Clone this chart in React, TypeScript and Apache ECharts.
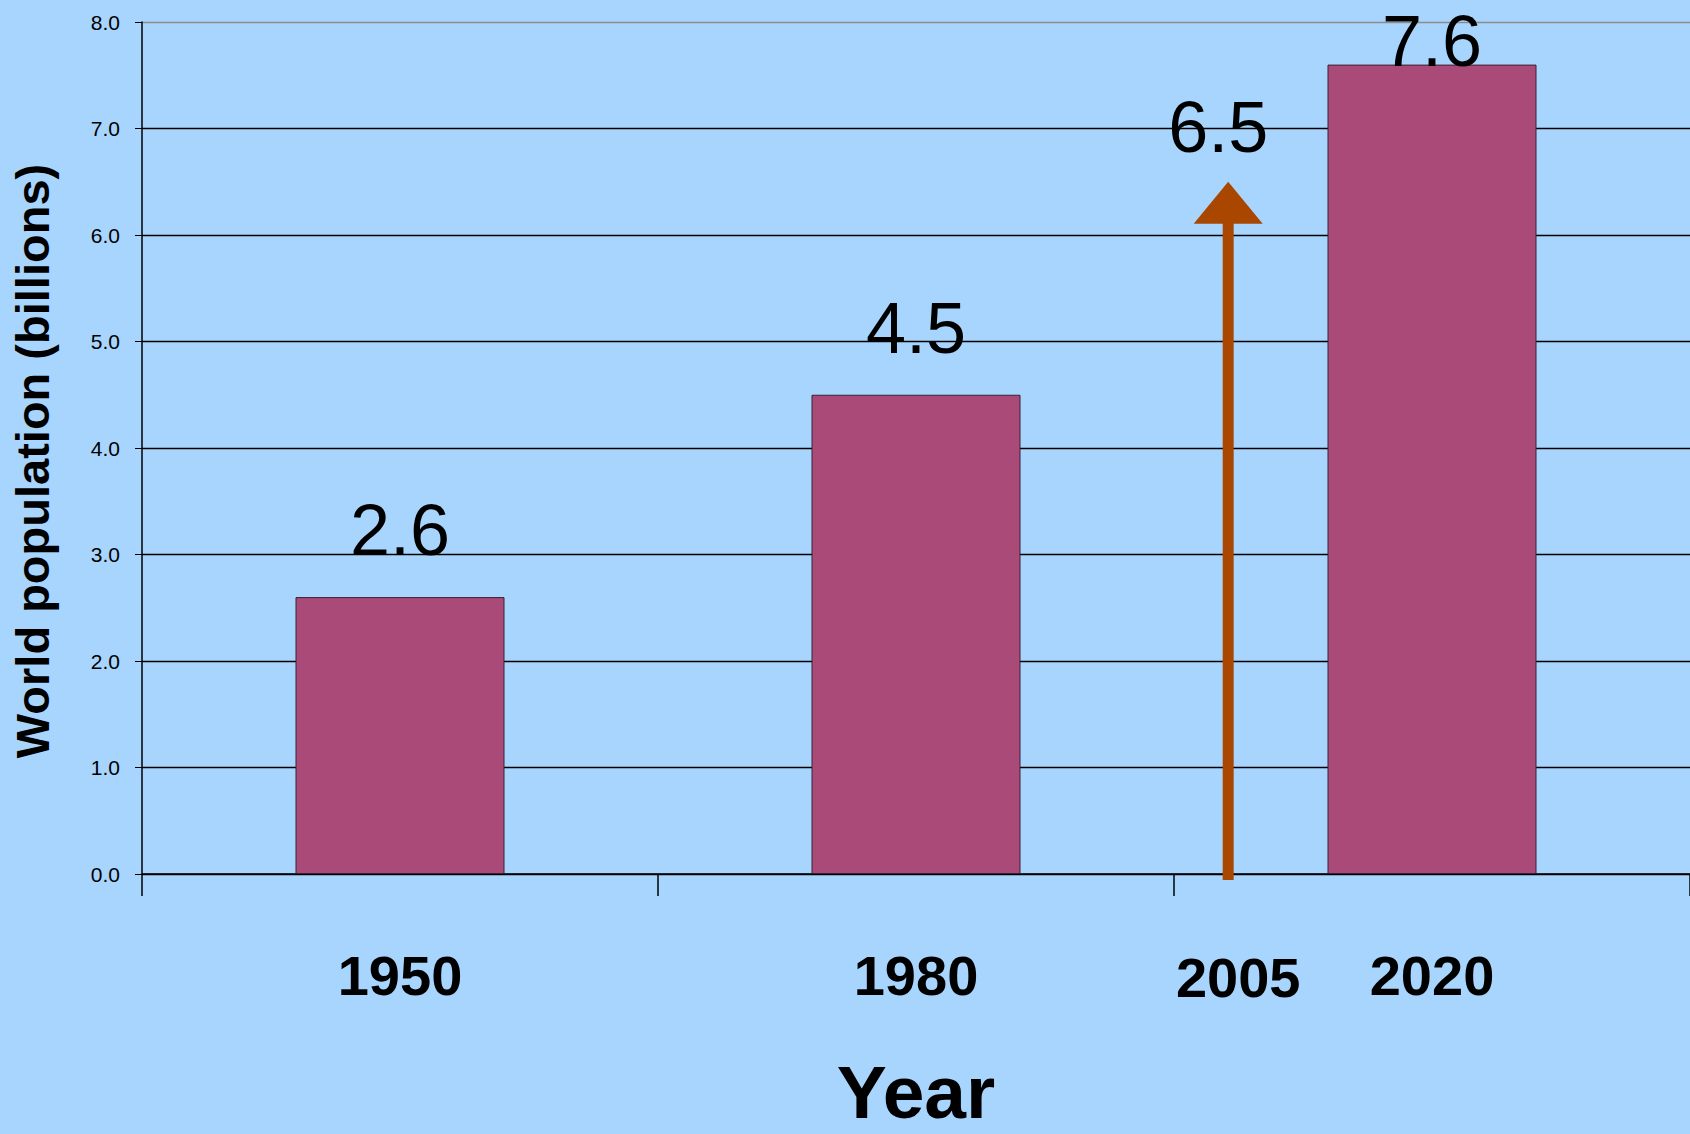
import React, { useEffect, useRef } from 'react';
import * as echarts from 'echarts';

// ---- data ----
const years = ['1950', '1980', '2020'];
const population = [2.6, 4.5, 7.6];
const markerYear = '2005';
const markerValue = 6.5;
const yAxisTitle = 'World population (billions)';
const xAxisTitle = 'Year';
const yMin = 0;
const yMax = 8;
const yStep = 1;

// ---- layout / style constants ----
const FONT = 'Liberation Sans, Arial, sans-serif';
const MARKER_BAND_POS = 2.105; // position of the 2005 arrow along the category bands
const BG = '#A8D5FE';
const BAR_COLOR = '#AA4A78';
const ARROW_COLOR = '#A94700';

export default function App() {
  const ref = useRef<HTMLDivElement>(null);

  useEffect(() => {
    document.body.style.margin = '0';
    const chart = echarts.init(ref.current!, null, { renderer: 'svg' });

    const splitColors: string[] = [];
    for (let v = yMin; v <= yMax; v += yStep) splitColors.push(v === yMax ? '#8c8c8c' : '#000000');

    const option: any = {
      animation: false,
      backgroundColor: BG,
      textStyle: { fontFamily: FONT },
      grid: { left: 142, right: -2, top: 22, bottom: 250, containLabel: false },
      xAxis: [
        {
          type: 'category',
          data: years,
          boundaryGap: true,
          axisLine: { show: true, lineStyle: { color: '#000', width: 1.5 } },
          axisTick: { show: true, length: 22, lineStyle: { color: '#000', width: 1.5 } },
          axisLabel: { fontSize: 56, fontWeight: 'bold', color: '#000', fontFamily: FONT, margin: 73 },
          name: xAxisTitle,
          nameLocation: 'middle',
          nameGap: 180,
          nameTextStyle: { fontSize: 75, fontWeight: 'bold', color: '#000', fontFamily: FONT },
        },
        { type: 'value', min: 0, max: years.length, show: false },
      ],
      yAxis: {
        type: 'value',
        min: yMin,
        max: yMax,
        interval: yStep,
        axisLine: { show: true, lineStyle: { color: '#000', width: 1.5 } },
        axisTick: { show: true, length: 7, lineStyle: { color: '#000' } },
        axisLabel: {
          formatter: (v: number) => v.toFixed(1),
          fontSize: 21,
          color: '#000',
          fontFamily: FONT,
          margin: 22,
        },
        splitLine: { show: true, lineStyle: { color: splitColors, width: 1.3 } },
        name: yAxisTitle,
        nameLocation: 'middle',
        nameGap: 86,
        nameTextStyle: {
          fontSize: 47,
          fontWeight: 'bold',
          color: '#000',
          fontFamily: FONT,
          padding: [0, 26, 0, 0],
        },
      },
      series: [
        {
          type: 'bar',
          data: population.map((v) => ({
            value: v,
            label: v > yMax - 0.8 ? { distance: -12 } : undefined,
          })),
          barWidth: 209,
          itemStyle: { color: BAR_COLOR, borderColor: '#3a2030', borderWidth: 1 },
          label: {
            show: true,
            position: 'top',
            distance: 31,
            fontSize: 72,
            color: '#000',
            fontFamily: FONT,
            formatter: (p: any) => Number(p.value).toFixed(1),
          },
          z: 2,
        },
        {
          type: 'custom',
          xAxisIndex: 1,
          silent: true,
          z: 5,
          data: [[MARKER_BAND_POS, markerValue]],
          renderItem: (_params: any, api: any) => {
            const x = api.value(0);
            const v = api.value(1);
            const tip = api.coord([x, v]);
            const base = api.coord([x, 0]);
            const headH = 42;
            const headW = 69;
            const shaftW = 11;
            return {
              type: 'group',
              children: [
                {
                  type: 'rect',
                  shape: {
                    x: tip[0] - shaftW / 2,
                    y: tip[1] + headH - 1,
                    width: shaftW,
                    height: base[1] + 6 - (tip[1] + headH - 1),
                  },
                  style: { fill: ARROW_COLOR },
                },
                {
                  type: 'polygon',
                  shape: {
                    points: [
                      [tip[0], tip[1]],
                      [tip[0] - headW / 2, tip[1] + headH],
                      [tip[0] + headW / 2, tip[1] + headH],
                    ],
                  },
                  style: { fill: ARROW_COLOR },
                },
                {
                  type: 'text',
                  x: tip[0] - 10,
                  y: tip[1] - 55,
                  style: {
                    text: Number(v).toFixed(1),
                    fontSize: 72,
                    fontFamily: FONT,
                    fill: '#000',
                    align: 'center',
                    verticalAlign: 'middle',
                  },
                },
                {
                  type: 'text',
                  x: base[0] + 10,
                  y: base[1] + 103,
                  style: {
                    text: markerYear,
                    fontSize: 56,
                    fontWeight: 'bold',
                    fontFamily: FONT,
                    fill: '#000',
                    align: 'center',
                    verticalAlign: 'middle',
                  },
                },
              ],
            };
          },
        },
      ],
    };

    chart.setOption(option);
    return () => chart.dispose();
  }, []);

  return <div ref={ref} style={{ width: 1690, height: 1134 }} />;
}
